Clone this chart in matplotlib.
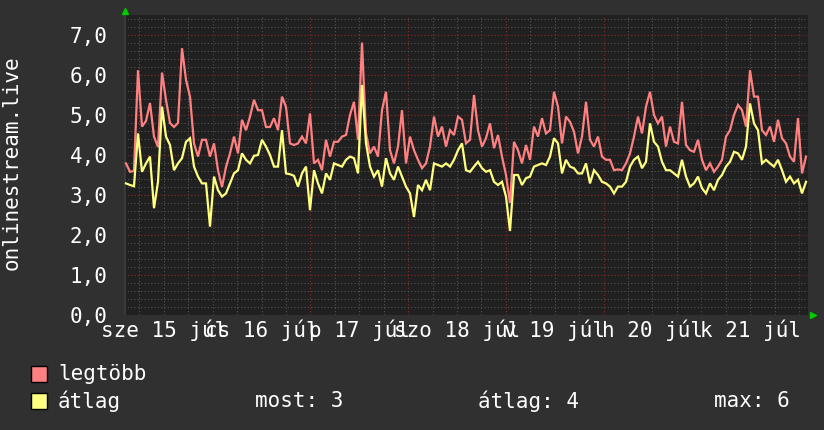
import numpy as np
import matplotlib
matplotlib.use("Agg")
import matplotlib.pyplot as plt
from matplotlib.ticker import MultipleLocator, FuncFormatter
from matplotlib.patches import Rectangle

# hourly samples (legtöbb = max, átlag = average), 15 Jul ~02:10 -> 22 Jul
legtobb = [
    3.79, 3.58, 3.6, 6.12, 4.71, 4.85, 5.3, 4.46, 4.2, 6.06, 5.38, 4.8, 4.7, 4.8, 6.67,
    5.88, 5.46, 4.29, 3.96, 4.38, 4.38, 3.96, 4.29, 3.62, 3.2, 3.7, 4.04, 4.46, 4.04, 4.88,
    4.62, 4.96, 5.38, 5.12, 5.12, 4.7, 4.7, 4.92, 4.62, 5.46, 5.2, 4.29, 4.25,
    4.29, 4.46, 4.29, 5.04, 3.79, 3.88, 3.62, 4.38, 3.96, 4.33, 4.33, 4.46, 4.5, 5.0, 5.33,
    4.38, 6.81, 4.54, 4.04, 4.21, 3.96, 5.12, 5.58, 4.12, 3.79, 4.21, 5.12, 3.79, 4.46, 4.12,
    3.88, 3.67, 3.79, 4.21, 4.96, 4.46, 4.71, 4.21, 4.62, 4.5, 4.96, 4.88, 4.29,
    4.38, 5.5, 4.62, 4.21, 4.42, 4.79, 4.17, 4.5, 3.96, 3.5, 2.8, 4.33, 4.12, 3.79, 4.25,
    3.88, 4.71, 4.46, 4.92, 4.54, 4.62, 5.58, 5.21, 4.29, 4.96, 4.83, 4.58, 4.04, 4.46, 5.33,
    4.38, 4.21, 4.46, 3.96, 3.88, 3.88, 3.62, 3.64, 3.62, 3.79, 4.04, 4.46,
    4.96, 4.54, 5.21, 5.58, 5.0, 4.79, 4.96, 4.21, 4.71, 4.33, 4.29, 5.33, 4.25, 4.12, 4.08,
    4.38, 3.88, 3.62, 3.79, 3.58, 3.71, 3.88, 4.46, 4.62, 5.0, 5.25, 5.12, 4.71, 6.12, 5.46,
    5.46, 4.62, 4.5, 4.71, 4.33, 4.88, 4.42, 4.29, 3.96, 3.83, 4.92, 3.54, 3.96,
]
atlag = [
    3.29, 3.25, 3.22, 4.54, 3.58, 3.79, 3.96, 2.67, 3.33, 5.21, 4.46, 4.25, 3.62, 3.79, 3.92,
    4.33, 4.42, 3.71, 3.46, 3.29, 3.29, 2.21, 3.46, 3.12, 2.96, 3.04, 3.29, 3.54, 3.62, 4.04,
    3.88, 3.79, 3.98, 4.0, 4.38, 4.21, 4.0, 3.71, 3.71, 4.62, 3.54, 3.52, 3.48,
    3.21, 3.54, 3.71, 2.62, 3.62, 3.29, 3.04, 3.54, 3.38, 3.79, 3.75, 3.71, 3.88, 3.96, 3.92,
    3.54, 5.75, 4.29, 3.71, 3.46, 3.62, 3.21, 3.92, 3.54, 3.38, 3.71, 3.46, 3.21, 3.04, 2.45,
    3.25, 3.12, 3.38, 3.12, 3.79, 3.75, 3.71, 3.79, 3.71, 3.88, 4.12, 4.29, 3.62,
    3.58, 3.71, 3.83, 3.67, 3.58, 3.62, 3.33, 3.25, 3.33, 2.96, 2.1, 3.5, 3.5, 3.25, 3.42,
    3.46, 3.71, 3.75, 3.79, 3.75, 3.96, 4.42, 4.29, 3.54, 3.88, 3.71, 3.67, 3.54, 3.54, 3.79,
    3.29, 3.62, 3.5, 3.33, 3.29, 3.21, 3.04, 3.21, 3.21, 3.33, 3.71, 3.88,
    3.96, 3.67, 3.83, 4.79, 4.33, 4.21, 3.83, 3.62, 3.62, 3.54, 3.46, 3.88, 3.46, 3.21, 3.29,
    3.46, 3.17, 3.04, 3.29, 3.12, 3.38, 3.5, 3.71, 3.83, 4.08, 4.04, 3.88, 4.21, 5.29, 4.79,
    4.62, 3.79, 3.88, 3.79, 3.71, 3.88, 3.62, 3.33, 3.46, 3.29, 3.38, 3.04, 3.33,
]
day_labels = ["sze 15 júl", "cs 16 júl", "p 17 júl", "szo 18 júl",
              "v 19 júl", "h 20 júl", "k 21 júl"]

t_start = 2.2          # hours after midnight, 15 Jul
span = 168.0           # one week
n = len(legtobb)
step = span / n
t = t_start + step * (np.arange(n) + 0.5)

BG = "#303030"
CANVAS = "#202020"
RED = "#ff8080"
YEL = "#ffff80"
FONT = "DejaVu Sans Mono"
FS = 15

plt.rcParams["font.family"] = FONT
W, H = 824, 430
fig = plt.figure(figsize=(W / 100, H / 100), dpi=100, facecolor=BG)
ax = fig.add_axes([124 / W, 1 - 315 / H, 684 / W, 300 / H])
ax.set_facecolor(CANVAS)

ax.plot(t, legtobb, color=RED, lw=1.6, zorder=3, solid_joinstyle="miter")
ax.plot(t, atlag, color=YEL, lw=1.6, zorder=4, solid_joinstyle="miter")

ax.set_xlim(t_start, t_start + span)
ax.set_ylim(0, 7.5)

# grid: grey dotted minor, dark red dotted major
ax.xaxis.set_minor_locator(MultipleLocator(6))
ax.xaxis.set_major_locator(MultipleLocator(24))
ax.yaxis.set_minor_locator(MultipleLocator(0.2))
ax.yaxis.set_major_locator(MultipleLocator(1))
ax.grid(which="minor", color="#555555", ls=(0, (1, 2)), lw=0.8, zorder=1)
ax.grid(which="major", color="#8a2a2a", ls=(0, (1, 2)), lw=0.8, zorder=2)
ax.set_axisbelow(True)

ax.yaxis.set_major_formatter(FuncFormatter(lambda v, p: f"{v:.1f}".replace(".", ",")))
ax.set_xticklabels([])
ax.tick_params(which="both", length=0)
ax.tick_params(axis="y", colors="white", labelsize=FS, pad=12)
for s in ax.spines.values():
    s.set_visible(False)
ax.axvline(t_start, color="#3c3c3c", lw=2, zorder=2)

# day labels centred on noon of each day
for k, lab in enumerate(day_labels):
    ax.text(12 + 24 * k, -0.05, lab, transform=ax.get_xaxis_transform(),
            ha="center", va="center", color="white", fontsize=FS)

# green arrow heads at axis ends
ax.plot([0.002], [1.015], marker="^", color="#00cc00", ms=4,
        transform=ax.transAxes, clip_on=False)
ax.plot([1.008], [0.0], marker=">", color="#00cc00", ms=4,
        transform=ax.transAxes, clip_on=False)

fig.text(12 / W, 1 - 163 / H, "onlinestream.live", rotation=90, color="white",
         fontsize=FS, ha="center", va="center")

# legend
for col, y_top in [(RED, 366), (YEL, 393)]:
    fig.patches.append(Rectangle((31 / W, 1 - (y_top + 16) / H), 16 / W, 16 / H,
                                 transform=fig.transFigure, facecolor=col,
                                 edgecolor="black", lw=1))
fig.text(58 / W, 1 - 374 / H, "legtöbb", color="white", fontsize=FS, va="center")
fig.text(58 / W, 1 - 401 / H, "átlag", color="white", fontsize=FS, va="center")
fig.text(255 / W, 1 - 401 / H, f"most: {atlag[-1]:.0f}", color="white",
         fontsize=FS, va="center")
fig.text(478 / W, 1 - 401 / H, f"átlag: {np.mean(atlag):.0f}", color="white",
         fontsize=FS, va="center")
fig.text(714 / W, 1 - 401 / H, f"max: {max(atlag):.0f}", color="white",
         fontsize=FS, va="center")

fig.savefig("out.png", dpi=100, facecolor=BG)
